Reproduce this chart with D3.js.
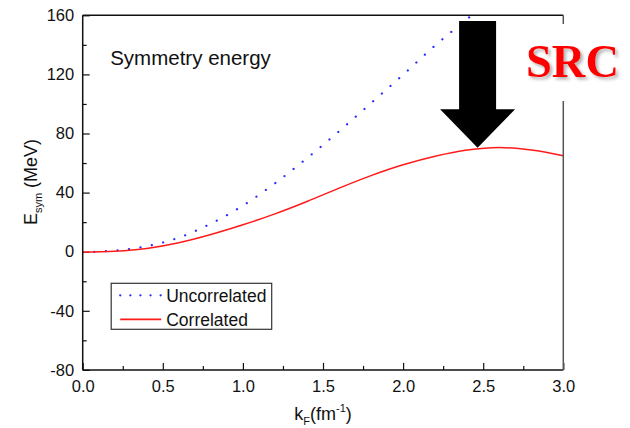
<!DOCTYPE html>
<html>
<head>
<meta charset="utf-8">
<script src="https://cdn.jsdelivr.net/npm/d3@7"></script>
<style>
  body { margin: 0; background: #fff; }
  svg { display: block; }
</style>
</head>
<body>
<svg id="chart" width="630" height="428"></svg>
<script>
// Fermi momentum grid (fm^-1) and symmetry energy (MeV)
const kUncorrelated = [0, 0.2, 0.4, 0.6, 0.8, 1.0, 1.2, 1.4, 1.6, 1.8, 2.0, 2.2, 2.4, 2.6];
const eUncorrelated = [-0.5, 0.8, 3.7, 9.5, 19.0, 31.2, 46.3, 63.3, 81.5, 100.6, 119.8, 139.6, 157.5, 175];
const kCorrelated = [0, 0.2, 0.4, 0.6, 0.8, 1.0, 1.2, 1.4, 1.6, 1.8, 2.0, 2.2, 2.4, 2.6, 2.8, 3.0];
const eCorrelated = [-0.4, 0.3, 2.2, 6.0, 11.6, 18.2, 25.6, 34.0, 43.0, 51.5, 58.8, 64.6, 68.8, 70.5, 68.8, 65.0];

const xTicks = [0, 0.5, 1.0, 1.5, 2.0, 2.5, 3.0];
const xMinorTicks = [0.25, 0.75, 1.25, 1.75, 2.25, 2.75];
const yTicks = [-80, -40, 0, 40, 80, 120, 160];
const yMinorTicks = [-60, -20, 20, 60, 100, 140];

const seriesNames = ["Uncorrelated", "Correlated"];
const seriesColors = ["#2a2aff", "#ff1a1a"];

const W = 630, H = 428;
const margin = { top: 15.3, right: 66.7, bottom: 58.1, left: 82.7 };
const innerW = W - margin.left - margin.right;
const innerH = H - margin.top - margin.bottom;

const svg = d3.select("#chart");
const sans = "'Liberation Sans', Arial, sans-serif";

const x = d3.scaleLinear().domain([0, 3]).range([0, innerW]);
const y = d3.scaleLinear().domain([-80, 160]).range([innerH, 0]);

const g = svg.append("g").attr("transform", `translate(${margin.left},${margin.top})`);

// clip the curves to the frame
const defs = svg.append("defs");
defs.append("clipPath").attr("id", "plotClip")
  .append("rect").attr("x", 0).attr("y", 0).attr("width", innerW).attr("height", innerH);

const shadow = defs.append("filter").attr("id", "softShadow")
  .attr("x", "-20%").attr("y", "-20%").attr("width", "150%").attr("height", "150%");
shadow.append("feDropShadow").attr("dx", 2.5).attr("dy", 2.5).attr("stdDeviation", 1.6)
  .attr("flood-color", "#777").attr("flood-opacity", 0.55);

// plain hyphen for negative tick labels
const intFormat = d => String(d);

// axes (ticks point inward)
function styleAxis(sel) {
  sel.select(".domain").remove();
  sel.selectAll(".tick line").attr("stroke", "#111").attr("stroke-width", 1.2);
  sel.selectAll(".tick text").attr("font-family", sans).attr("font-size", 16.5).attr("fill", "#111");
}

g.append("g").attr("transform", `translate(0,${innerH})`)
  .call(d3.axisBottom(x).tickValues(xTicks).tickSize(-7).tickFormat(d3.format(".1f")))
  .call(styleAxis)
  .call(s => s.selectAll(".tick text").attr("dy", "0.71em").attr("y", 10));
g.append("g").attr("transform", `translate(0,${innerH})`)
  .call(d3.axisBottom(x).tickValues(xMinorTicks).tickSize(-4).tickFormat(""))
  .call(styleAxis);

g.append("g")
  .call(d3.axisLeft(y).tickValues(yTicks).tickSize(-7).tickPadding(8.5).tickFormat(intFormat))
  .call(styleAxis);
g.append("g")
  .call(d3.axisLeft(y).tickValues(yMinorTicks).tickSize(-4).tickFormat(""))
  .call(styleAxis);

// curves
const lineGen = d3.line().x(d => x(d[0])).y(d => y(d[1])).curve(d3.curveCatmullRom.alpha(0.5));
const curves = g.append("g").attr("clip-path", "url(#plotClip)");

curves.append("path")
  .datum(kUncorrelated.map((k, i) => [k, eUncorrelated[i]]))
  .attr("d", lineGen).attr("fill", "none")
  .attr("stroke", seriesColors[0]).attr("stroke-width", 2.2)
  .attr("stroke-linecap", "round").attr("stroke-dasharray", "0.1 11.5");

curves.append("path")
  .datum(kCorrelated.map((k, i) => [k, eCorrelated[i]]))
  .attr("d", lineGen).attr("fill", "none")
  .attr("stroke", seriesColors[1]).attr("stroke-width", 1.5);

// frame
g.append("line").attr("x1", 0).attr("x2", innerW).attr("y1", innerH).attr("y2", innerH)
  .attr("stroke", "#111").attr("stroke-width", 1.5);
g.append("line").attr("x1", 0).attr("x2", 0).attr("y1", 0).attr("y2", innerH)
  .attr("stroke", "#111").attr("stroke-width", 1.5);
g.append("line").attr("x1", 0).attr("x2", innerW).attr("y1", 0).attr("y2", 0)
  .attr("stroke", "#111").attr("stroke-width", 1.5);
g.append("line").attr("x1", innerW).attr("x2", innerW).attr("y1", 0).attr("y2", innerH)
  .attr("stroke", "#555").attr("stroke-width", 1.5);

// panel title
g.append("text").attr("x", 27.5).attr("y", 50)
  .attr("font-family", sans).attr("font-size", 20.5).attr("fill", "#111")
  .text("Symmetry energy");

// axis titles
const xTitle = svg.append("text")
  .attr("x", margin.left + innerW / 2).attr("y", 420)
  .attr("text-anchor", "middle").attr("font-family", sans).attr("font-size", 18).attr("fill", "#111");
xTitle.append("tspan").text("k");
xTitle.append("tspan").attr("font-size", 11).attr("dy", 5).text("F");
xTitle.append("tspan").attr("dy", -5).text("(fm");
xTitle.append("tspan").attr("font-size", 11).attr("dy", -8).text("-1");
xTitle.append("tspan").attr("dy", 8).text(")");

const yTitle = svg.append("text")
  .attr("transform", "translate(37,182) rotate(-90)")
  .attr("text-anchor", "middle").attr("font-family", sans).attr("font-size", 18).attr("fill", "#111");
yTitle.append("tspan").text("E");
yTitle.append("tspan").attr("font-size", 11).attr("dy", 5).text("sym");
yTitle.append("tspan").attr("dy", -5).text(" (MeV)");

// legend
const legend = g.append("g").attr("transform", "translate(28.5,268)");
legend.append("rect").attr("x", 0).attr("y", 0).attr("width", 160.5).attr("height", 46)
  .attr("fill", "#fff").attr("stroke", "#333").attr("stroke-width", 1.2);
seriesNames.forEach((name, i) => {
  const ly = 12 + i * 24;
  const ln = legend.append("line").attr("x1", 9).attr("x2", 50).attr("y1", ly).attr("y2", ly)
    .attr("stroke", seriesColors[i]);
  if (i === 0) {
    ln.attr("stroke-width", 2.2).attr("stroke-linecap", "round").attr("stroke-dasharray", "0.1 10");
  } else {
    ln.attr("stroke-width", 1.8);
  }
  legend.append("text").attr("x", 55).attr("y", ly + 6.5)
    .attr("font-family", sans).attr("font-size", 17.5).attr("fill", "#111").text(name);
});

// annotation: downward arrow onto the correlated curve, and the SRC label
const arrowTip = [2.465, 70.3];
const arrowTop = 156.2;
const tx = x(arrowTip[0]), ty = y(arrowTip[1]);
const shaftHalf = 18.5, headHalf = 37.5, headLen = 38.5;
const topY = y(arrowTop);
g.append("path")
  .attr("d", d3.line()([
    [tx - shaftHalf, topY], [tx + shaftHalf, topY], [tx + shaftHalf, ty - headLen],
    [tx + headHalf, ty - headLen], [tx, ty], [tx - headHalf, ty - headLen],
    [tx - shaftHalf, ty - headLen]
  ]) + "Z")
  .attr("fill", "#000");

svg.append("rect").attr("x", 521).attr("y", 24).attr("width", 109).attr("height", 77).attr("fill", "#fff");
svg.append("text").attr("x", 526).attr("y", 77)
  .attr("font-family", "'Liberation Serif', 'Times New Roman', serif")
  .attr("font-weight", "bold").attr("font-size", 46.5).attr("fill", "#ff0000")
  .attr("filter", "url(#softShadow)")
  .text("SRC");
</script>
</body>
</html>
